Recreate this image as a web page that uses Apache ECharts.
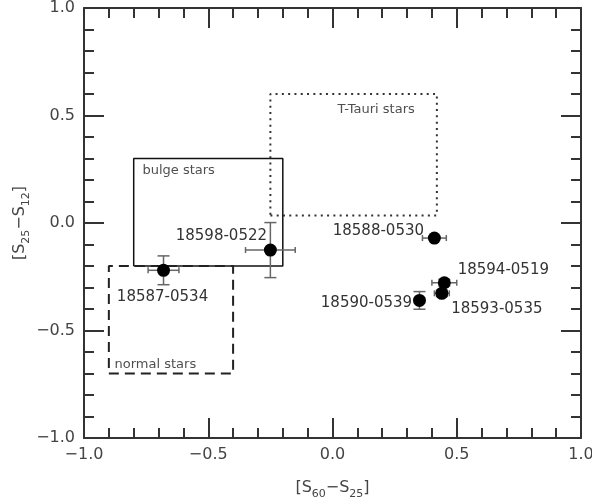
<!DOCTYPE html>
<html><head><meta charset="utf-8">
<script src="https://cdn.jsdelivr.net/npm/echarts@6/dist/echarts.min.js"></script>
<style>html,body{margin:0;padding:0;background:#fff}#c{width:592px;height:501px}</style>
</head><body><div id="c"></div>
<script>
// ---- data ----
const starNames = ['18587-0534','18598-0522','18588-0530','18594-0519','18593-0535','18590-0539'];
const xVals = [-0.68, -0.25, 0.41, 0.45, 0.44, 0.35];
const yVals = [-0.22, -0.126, -0.07, -0.278, -0.327, -0.36];
const xErr  = [0.062, 0.10, 0.048, 0.05, 0.03, 0.0];
const yErr  = [0.067, 0.128, 0.0, 0.015, 0.015, 0.041];

const bulgeX = [-0.8, -0.2],  bulgeY = [-0.2, 0.3];
const tTauriX = [-0.25, 0.42], tTauriY = [0.035, 0.6];
const normalX = [-0.9, -0.4],  normalY = [-0.7, -0.2];

const regionNames = ['bulge stars', 'T-Tauri stars', 'normal stars'];
const regionLabelX = [-0.765, 0.02, -0.877];
const regionLabelY = [0.243, 0.527, -0.66];

const axisMin = -1.0, axisMax = 1.0, axisStep = 0.5;

// ---- styling (not data) ----
const labelOffsets = [[-1, 27], [-49, -14], [-56, -7], [59, -13], [55, 16], [-53, 3]];
const FONT = 'DejaVu Sans';
const AX = '#333';

function rect(xs, ys) {
  return [[xs[0], ys[0]], [xs[1], ys[0]], [xs[1], ys[1]], [xs[0], ys[1]], [xs[0], ys[0]]];
}
function fmt(v) { return (v < 0 ? '\u2212' : '') + Math.abs(v).toFixed(1); }

function axisCommon(pos, showLabel) {
  return {
    type: 'value', min: axisMin, max: axisMax, interval: axisStep, position: pos,
    axisLine: { show: true, onZero: false, lineStyle: { color: AX, width: 2 } },
    axisTick: { show: true, inside: true, length: 20, lineStyle: { color: AX, width: 2 } },
    minorTick: { show: true, splitNumber: 5, length: 10, lineStyle: { color: AX, width: 2 } },
    splitLine: { show: false }, minorSplitLine: { show: false },
    axisLabel: { show: showLabel, margin: 9, fontSize: 16, color: '#444', fontFamily: FONT, formatter: fmt,
                 showMinLabel: true, showMaxLabel: true }
  };
}

const richName = {
  n: { fontSize: 16, fontFamily: FONT, color: '#444', lineHeight: 20, verticalAlign: 'top' },
  s: { fontSize: 11, fontFamily: FONT, color: '#444', lineHeight: 10, verticalAlign: 'bottom' }
};

const xb = axisCommon('bottom', true);
xb.name = '{n|[S}{s|60}{n|\u2212S}{s|25}{n|]}';
xb.nameLocation = 'middle'; xb.nameGap = 42; xb.nameMoveOverlap = false;
xb.nameTextStyle = { rich: richName };
const xt = axisCommon('top', false);
const yl = axisCommon('left', true);
yl.name = '{n|[S}{s|25}{n|\u2212S}{s|12}{n|]}';
yl.nameLocation = 'middle'; yl.nameGap = 52; yl.nameMoveOverlap = false;
yl.nameTextStyle = { rich: richName };
const yr = axisCommon('right', false);

const pts = starNames.map((n, i) => ({
  value: [xVals[i], yVals[i]],
  label: { offset: labelOffsets[i] }
}));
const errData = starNames.map((n, i) => [xVals[i], yVals[i], xErr[i], yErr[i]]);

const chart = echarts.init(document.getElementById('c'), null, { renderer: 'canvas' });
chart.setOption({
  animation: false,
  backgroundColor: '#fff',
  grid: { left: 84, right: 11, top: 8, bottom: 63, containLabel: false, outerBoundsMode: 'none' },
  xAxis: [xb, xt],
  yAxis: [yl, yr],
  series: [
    { type: 'line', data: rect(bulgeX, bulgeY), symbol: 'none', silent: true,
      lineStyle: { color: '#111', width: 1.5, type: 'solid' }, z: 2 },
    { type: 'line', data: rect(tTauriX, tTauriY), symbol: 'none', silent: true,
      lineStyle: { color: '#333', width: 2, type: [2, 4.3] }, z: 2 },
    { type: 'line', data: rect(normalX, normalY), symbol: 'none', silent: true,
      lineStyle: { color: '#222', width: 2, type: [10, 6] }, z: 2 },
    { type: 'custom', z: 3, silent: true,
      data: errData,
      renderItem: function (params, api) {
        const x = api.value(0), y = api.value(1), ex = api.value(2), ey = api.value(3);
        const ch = [];
        const st = { stroke: '#666', lineWidth: 1.5 };
        if (ex > 0) {
          const a = api.coord([x - ex, y]), b = api.coord([x + ex, y]);
          ch.push({ type: 'line', shape: { x1: a[0], y1: a[1], x2: b[0], y2: b[1] }, style: st });
          ch.push({ type: 'line', shape: { x1: a[0], y1: a[1] - 3, x2: a[0], y2: a[1] + 3 }, style: st });
          ch.push({ type: 'line', shape: { x1: b[0], y1: b[1] - 3, x2: b[0], y2: b[1] + 3 }, style: st });
        }
        if (ey > 0) {
          const a = api.coord([x, y - ey]), b = api.coord([x, y + ey]);
          ch.push({ type: 'line', shape: { x1: a[0], y1: a[1], x2: b[0], y2: b[1] }, style: st });
          ch.push({ type: 'line', shape: { x1: a[0] - 6, y1: a[1], x2: a[0] + 6, y2: a[1] }, style: st });
          ch.push({ type: 'line', shape: { x1: b[0] - 6, y1: b[1], x2: b[0] + 6, y2: b[1] }, style: st });
        }
        return { type: 'group', children: ch };
      }
    },
    { type: 'scatter', z: 4, symbol: 'circle', symbolSize: 13, data: pts,
      itemStyle: { color: '#000', opacity: 1 },
      label: { show: true, position: 'inside', align: 'center', verticalAlign: 'middle',
               formatter: p => starNames[p.dataIndex], fontSize: 15, fontFamily: FONT, color: '#333' } },
    { type: 'scatter', z: 4, symbolSize: 0, silent: true,
      data: regionNames.map((n, i) => [regionLabelX[i], regionLabelY[i]]),
      label: { show: true, position: 'inside', align: 'left', verticalAlign: 'middle',
               formatter: p => regionNames[p.dataIndex], fontSize: 13, fontFamily: FONT, color: '#222' } }
  ]
});
</script></body></html>
